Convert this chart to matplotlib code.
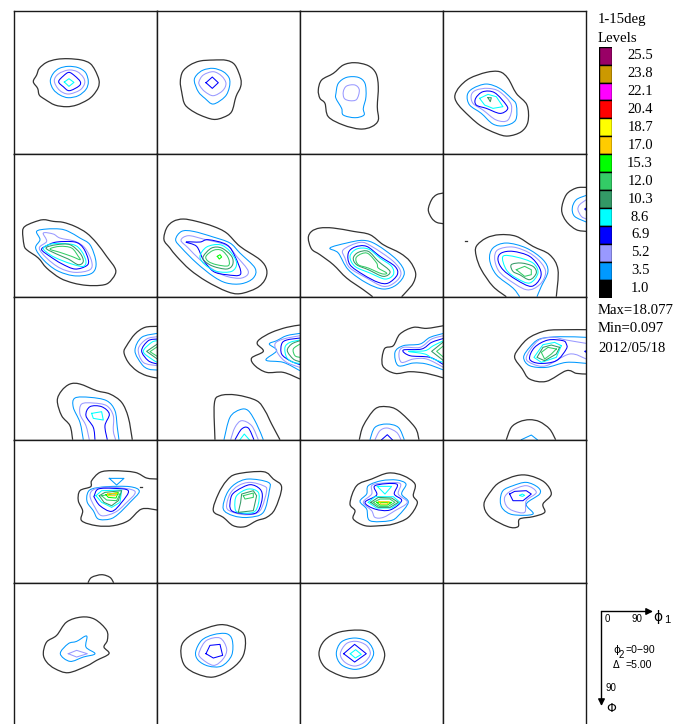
import numpy as np
import matplotlib
matplotlib.use("Agg")
import matplotlib.pyplot as plt
from matplotlib.path import Path
from matplotlib.patches import PathPatch

# Contour levels and their colours (top of legend first)
levels = [25.5, 23.8, 22.1, 20.4, 18.7, 17.0, 15.3, 12.0, 10.3, 8.6, 6.9, 5.2, 3.5, 1.0]
colors = ["#990066", "#CC9900", "#FF00FF", "#FF0000", "#FFFF00", "#FFCC00", "#00FF00",
          "#33CC66", "#339966", "#00FFFF", "#0000FF", "#9999FF", "#0099FF", "#000000"]
level_color = dict(zip(levels, colors))

stats = ["Max=18.077", "Min=0.097", "2012/05/18"]

# Contours, (level, points), one list per section.
# Points are in trace units: 429 units = 90 deg, see trace_x0 / trace_y0
r0c0 = [
    (1.0, [(100,245),(110,225),(118,205),(140,187),(170,178),(205,176),(245,180),(270,190),(285,210),(297,240),(295,262),(280,285),(262,300),(230,315),(200,320),(165,315),(135,298),(118,285),(113,265),(100,245)]),
    (3.5, [(151,243),(160,220),(178,205),(205,199),(235,203),(257,218),(265,245),(258,268),(235,287),(205,293),(180,285),(160,268),(151,243)]),
    (5.2, [(163,243),(175,222),(205,210),(232,215),(250,232),(254,250),(240,270),(205,282),(178,270),(163,243)]),
    (6.9, [(176,245),(190,228),(207,217),(225,228),(241,245),(237,258),(208,272),(190,260),(176,245)]),
    (8.6, [(193,246),(207,236),(222,247),(207,259),(193,246)]),
]
r0c1 = [
    (1.0, [(541,245),(548,215),(570,195),(600,183),(640,180),(680,181),(705,195),(722,235),(722,260),(708,290),(695,335),(670,352),(640,358),(600,345),(570,328),(553,310),(545,275),(541,245)]),
    (3.5, [(583,243),(590,225),(610,210),(640,205),(670,215),(688,235),(688,262),(675,290),(640,312),(615,295),(595,275),(583,243)]),
    (5.2, [(597,245),(610,225),(640,215),(665,228),(678,250),(668,272),(640,287),(615,275),(600,258),(597,245)]),
    (6.9, [(618,248),(637,231),(655,248),(637,265),(618,248)]),
]
r0c2 = [
    (1.0, [(55,270),(65,240),(100,220),(130,195),(165,188),(205,197),(228,220),(235,260),(232,320),(235,360),(215,380),(180,387),(130,375),(85,350),(75,310),(60,295),(55,270)]),
    (3.5, [(108,280),(115,250),(140,232),(175,232),(195,250),(198,290),(190,325),(192,345),(165,353),(130,345),(125,325),(108,295),(108,280)]),
    (5.2, [(130,275),(140,258),(165,255),(178,270),(170,298),(150,302),(133,295),(130,275)]),
]
r0c3 = [
    (1.0, [(466,285),(480,260),(510,235),(560,217),(600,215),(625,235),(650,280),(682,315),(685,365),(665,395),(625,408),(590,400),(540,375),(490,330),(470,305),(466,285)]),
    (3.5, [(503,285),(520,265),(560,252),(600,265),(635,295),(650,315),(648,360),(615,377),(580,372),(545,340),(510,315),(503,285)]),
    (5.2, [(515,285),(530,270),(565,265),(600,275),(635,315),(625,360),(590,360),(550,330),(520,310),(515,285)]),
    (6.9, [(528,295),(550,275),(585,278),(620,315),(622,330),(600,340),(560,325),(530,315),(528,295)]),
    (8.6, [(540,295),(565,283),(590,290),(610,320),(580,325),(555,315),(540,295)]),
    (10.3, [(565,293),(575,293),(572,305),(565,293)]),
]
r1c0 = [
    (1.0, [(68,695),(75,680),(100,668),(130,660),(160,665),(190,668),(225,680),(260,700),(290,730),(320,770),(345,805),(345,825),(325,850),(300,857),(260,857),(220,850),(180,835),(140,805),(115,775),(80,750),(72,735),(68,695)]),
    (3.5, [(110,695),(140,688),(180,688),(205,695),(240,715),(270,735),(287,780),(285,810),(265,825),(220,828),(170,812),(130,780),(107,745),(120,720),(110,695)]),
    (5.2, [(130,700),(160,703),(180,715),(225,725),(255,745),(275,785),(270,810),(225,818),(180,805),(140,775),(118,745),(140,725),(130,700)]),
    (6.9, [(140,738),(170,727),(225,727),(250,745),(265,780),(260,798),(225,808),(185,792),(150,770),(125,750),(140,738)]),
    (8.6, [(130,745),(160,732),(220,735),(245,755),(258,785),(250,800),(222,795),(180,780),(150,765),(130,745)]),
    (10.3, [(138,745),(170,735),(210,735),(240,760),(250,785),(235,795),(205,778),(170,763),(138,745)]),
    (12.0, [(150,748),(180,740),(215,745),(235,770),(240,780),(215,770),(180,758),(150,748)]),
]
r1c1 = [
    (1.0, [(492,720),(500,685),(520,665),(550,658),(590,665),(640,680),(680,700),(720,740),(780,780),(800,810),(795,840),(770,865),(720,882),(680,875),(620,845),(570,810),(530,770),(510,745),(492,720)]),
    (3.5, [(527,720),(545,695),(580,695),(640,712),(690,730),(720,760),(765,805),(760,835),(725,852),(680,850),(640,830),(590,790),(545,745),(527,720)]),
    (5.2, [(543,722),(565,708),(610,718),(680,737),(710,770),(745,815),(725,835),(680,830),(640,810),(600,780),(565,745),(543,722)]),
    (6.9, [(558,727),(600,727),(625,720),(680,735),(705,770),(722,823),(680,825),(640,815),(610,780),(590,740),(558,727)]),
    (8.6, [(600,770),(620,742),(660,735),(690,755),(710,790),(695,815),(650,815),(615,795),(600,770)]),
    (10.3, [(610,770),(635,745),(665,745),(695,770),(698,795),(680,808),(640,800),(615,785),(610,770)]),
    (12.0, [(618,770),(640,752),(665,752),(685,775),(685,798),(650,795),(625,785),(618,770)]),
    (15.3, [(652,770),(660,765),(665,772),(658,778),(652,770)]),
]
r1c2 = [
    (1.0, [(430,580),(410,585),(395,600),(385,630),(395,655),(410,668),(430,672)]),
    (1.0, [(218,891),(190,870),(140,835),(100,795),(60,765),(35,748),(25,715),(35,695),(60,685),(100,685),(160,695),(210,705),(250,735),(300,760),(330,785),(347,820),(340,850),(320,875),(305,891)]),
    (3.5, [(90,745),(140,730),(190,722),(230,735),(290,780),(313,820),(290,855),(250,868),(200,850),(145,810),(115,760),(90,745)]),
    (5.2, [(130,750),(180,728),(215,740),(280,785),(303,820),(285,848),(250,860),(200,835),(150,805),(135,775),(130,750)]),
    (6.9, [(145,760),(165,742),(200,740),(240,770),(285,800),(292,825),(265,850),(235,848),(190,825),(150,795),(145,760)]),
    (8.6, [(150,770),(170,748),(205,748),(240,775),(275,800),(280,825),(255,838),(210,820),(165,800),(150,770)]),
    (10.3, [(160,775),(175,758),(205,755),(235,785),(270,815),(250,830),(205,810),(170,795),(160,775)]),
    (12.0, [(168,775),(185,762),(205,762),(230,790),(235,805),(260,820),(245,822),(205,805),(175,795),(168,775)]),
]
r1c3 = [
    (1.0, [(860,563),(830,565),(800,585),(786,630),(800,665),(830,690),(860,695)]),
    (3.5, [(860,587),(830,600),(818,625),(825,650),(860,667)]),
    (5.2, [(860,600),(840,615),(835,630),(845,650),(860,658)]),
    (6.9, [(860,625),(855,628),(860,632)]),
    (1.0, [(620,891),(580,860),(545,810),(530,770),(530,740),(560,715),(600,705),(650,710),(700,740),(750,765),(775,810),(770,891)]),
    (1.0, [(497,723),(503,723)]),
    (3.5, [(660,891),(640,865),(590,825),(570,780),(580,745),(620,730),(680,745),(730,780),(745,815),(725,860),(712,891)]),
    (5.2, [(585,775),(595,750),(640,742),(690,760),(725,790),(738,820),(720,855),(680,870),(620,835),(595,810),(585,775)]),
    (6.9, [(595,780),(605,760),(640,755),(690,770),(720,805),(722,835),(695,860),(650,840),(610,810),(595,780)]),
    (8.6, [(610,770),(650,772),(700,790),(715,820),(690,850),(650,835),(620,810),(610,770)]),
    (10.3, [(635,795),(665,790),(700,800),(710,820),(690,840),(660,825),(640,815),(635,795)]),
    (12.0, [(650,810),(675,800),(695,810),(695,825),(675,830),(650,810)]),
]
r2c0 = [
    (1.0, [(472,97),(435,100),(405,120),(380,155),(372,175),(385,205),(410,230),(440,245),(472,252)]),
    (3.5, [(472,118),(425,130),(405,170),(425,210),(445,225),(472,228)]),
    (5.2, [(472,128),(440,135),(415,165),(430,205),(472,215)]),
    (6.9, [(472,135),(445,140),(425,170),(445,200),(472,210)]),
    (8.6, [(472,140),(455,145),(430,172),(455,195),(472,205)]),
    (10.3, [(472,150),(440,172),(472,195)]),
    (12.0, [(472,158),(450,173),(472,187)]),
    (1.0, [(218,437),(210,395),(185,365),(172,320),(185,290),(210,270),(240,270),(290,290),(330,300),(365,325),(385,370),(397,437)]),
    (3.5, [(250,437),(240,385),(220,340),(225,312),(270,310),(320,320),(345,350),(352,400),(357,437)]),
    (5.2, [(268,437),(258,395),(240,360),(245,330),(280,327),(320,335),(340,365),(340,410),(347,437)]),
    (6.9, [(285,437),(280,400),(258,365),(270,338),(305,338),(328,360),(315,395),(322,437)]),
    (8.6, [(275,358),(305,353),(310,378),(280,373),(275,358)]),
]
r2c1 = [
    (1.0, [(900,93),(860,100),(815,115),(780,135),(772,150),(790,172),(755,192),(765,215),(800,235),(850,235),(900,255)]),
    (3.5, [(900,118),(860,125),(830,140),(808,150),(830,170),(798,198),(850,205),(900,230)]),
    (5.2, [(900,125),(850,135),(825,150),(835,180),(860,205),(900,220)]),
    (6.9, [(900,132),(860,138),(845,150),(845,180),(870,200),(900,212)]),
    (8.6, [(900,138),(870,145),(855,160),(860,190),(880,205),(900,208)]),
    (10.3, [(900,140),(875,150),(862,170),(880,195),(900,203)]),
    (12.0, [(900,150),(880,165),(885,185),(900,190)]),
    (1.0, [(645,437),(643,330),(660,305),(710,303),(770,320),(795,350),(815,390),(840,437)]),
    (3.5, [(672,437),(690,370),(720,347),(745,350),(770,390),(790,437)]),
    (5.2, [(692,437),(705,400),(725,380),(755,395),(775,437)]),
    (6.9, [(705,437),(725,405),(745,402),(762,437)]),
    (8.6, [(720,437),(733,420),(748,437)]),
]
r2c2 = [
    (1.0, [(431,95),(380,103),(340,100),(300,120),(280,155),(253,165),(248,215),(285,238),(330,233),(380,238),(431,252)]),
    (3.5, [(431,118),(390,130),(360,150),(310,155),(285,175),(295,215),(340,207),(380,210),(431,228)]),
    (5.2, [(431,125),(395,135),(360,160),(310,160),(297,178),(305,205),(340,195),(380,195),(431,220)]),
    (6.9, [(431,133),(395,145),(365,165),(310,168),(330,185),(390,190),(431,212)]),
    (8.6, [(431,140),(400,155),(375,170),(325,172),(375,180),(400,195),(431,205)]),
    (10.3, [(431,143),(395,172),(431,200)]),
    (12.0, [(431,155),(410,172),(431,190)]),
    (1.0, [(178,437),(190,395),(225,345),(260,338),(295,350),(345,400),(357,437)]),
    (3.5, [(210,437),(225,400),(260,390),(295,400),(313,437)]),
    (5.2, [(225,437),(240,410),(262,402),(290,415),(303,437)]),
    (6.9, [(245,437),(262,422),(277,437)]),
]
r2c3 = [
    (1.0, [(860,107),(800,107),(740,110),(690,130),(660,160),(645,190),(668,225),(690,255),(740,262),(800,230),(830,238),(860,240)]),
    (3.5, [(860,130),(780,128),(720,135),(690,160),(672,190),(690,215),(740,220),(800,205),(860,208)]),
    (5.2, [(860,148),(800,138),(760,130),(715,140),(680,190),(700,210),(740,215),(810,180),(860,195)]),
    (6.9, [(800,150),(790,140),(745,138),(705,160),(690,195),(720,208),(770,200),(800,165),(800,150)]),
    (6.9, [(860,170),(855,172),(860,175)]),
    (8.6, [(785,155),(765,145),(730,152),(703,190),(725,205),(770,190),(785,155)]),
    (10.3, [(780,160),(755,153),(730,160),(712,190),(735,200),(770,180),(780,160)]),
    (12.0, [(770,165),(745,160),(725,175),(735,195),(755,180),(770,165)]),
    (1.0, [(620,437),(635,400),(660,383),(690,377),(720,383),(750,405),(768,437)]),
    (3.5, [(665,437),(695,423),(713,437)]),
]
r3c0 = [
    (1.0, [(472,555),(440,552),(405,535),(340,530),(300,535),(275,560),(272,578),(240,590),(235,620),(248,650),(245,680),(290,695),(340,695),(385,680),(425,645),(472,648)]),
    (1.0, [(420,578),(426,578)]),
    (1.0, [(264,866),(275,850),(305,842),(330,850),(341,866)]),
    (3.5, [(328,553),(372,553),(350,573),(328,553)]),
    (3.5, [(262,600),(275,585),(320,578),(390,578),(418,592),(390,625),(355,660),(330,675),(295,675),(280,650),(262,625),(262,600)]),
    (5.2, [(270,605),(285,585),(340,580),(405,592),(375,630),(345,655),(305,665),(285,640),(270,605)]),
    (6.9, [(283,605),(295,585),(340,583),(385,590),(365,625),(335,652),(300,635),(283,610),(283,605)]),
    (8.6, [(288,605),(305,590),(365,588),(360,625),(335,640),(305,625),(288,605)]),
    (10.3, [(298,605),(315,595),(365,590),(355,620),(335,635),(312,625),(298,605)]),
    (12.0, [(305,605),(335,600),(360,600),(350,620),(320,618),(305,605)]),
    (15.3, [(318,602),(355,595),(348,612),(325,610),(318,602)]),
    (17.0, [(323,600),(352,597),(345,605),(325,605),(323,600)]),
]
r3c1 = [
    (1.0, [(640,650),(655,600),(680,560),(710,540),(790,533),(820,555),(845,580),(825,645),(800,670),(770,680),(735,698),(700,695),(670,670),(640,650)]),
    (3.5, [(670,645),(680,600),(705,570),(745,555),(805,565),(808,590),(790,655),(745,670),(700,665),(670,645)]),
    (5.2, [(680,640),(690,600),(715,575),(750,565),(790,575),(800,590),(780,650),(740,662),(700,655),(680,640)]),
    (6.9, [(695,650),(693,610),(710,590),(750,572),(780,585),(787,610),(775,650),(750,660),(695,650)]),
    (8.6, [(705,640),(710,605),(745,585),(775,595),(775,630),(760,655),(715,655),(705,640)]),
    (10.3, [(715,655),(722,625),(725,600),(760,590),(770,605),(760,650),(715,655)]),
    (12.0, [(730,605),(760,597),(760,610),(735,615),(730,605)]),
]
r3c2 = [
    (1.0, [(150,628),(170,575),(215,555),(265,537),(310,545),(345,570),(340,605),(352,628),(325,670),(280,690),(240,695),(195,695),(160,675),(165,650),(150,628)]),
    (3.5, [(180,622),(200,600),(205,575),(245,560),(290,558),(318,570),(305,600),(325,625),(295,665),(270,680),(210,680),(200,645),(180,622)]),
    (5.2, [(190,625),(215,600),(215,575),(240,568),(300,568),(295,600),(322,625),(285,650),(250,670),(225,670),(215,650),(190,625)]),
    (6.9, [(195,625),(230,603),(225,575),(290,570),(283,600),(305,620),(270,648),(225,645),(195,625)]),
    (8.6, [(232,577),(275,577),(255,600),(232,577)]),
    (8.6, [(205,625),(225,608),(280,608),(300,625),(275,642),(230,642),(205,625)]),
    (10.3, [(212,625),(235,610),(275,612),(295,625),(270,640),(235,640),(212,625)]),
    (12.0, [(220,625),(240,615),(270,615),(285,625),(265,637),(238,637),(220,625)]),
    (15.3, [(230,625),(275,625),(262,633),(240,633),(230,625)]),
    (17.0, [(237,623),(268,623),(262,630),(243,630),(237,623)]),
]
r3c3 = [
    (1.0, [(553,630),(575,590),(600,565),(650,545),(690,545),(735,565),(755,600),(730,630),(735,655),(700,668),(660,675),(655,698),(625,698),(570,668),(553,630)]),
    (3.5, [(602,620),(610,590),(640,575),(680,565),(715,580),(720,600),(680,630),(700,660),(640,662),(610,645),(602,620)]),
    (5.2, [(615,610),(635,590),(680,575),(710,595),(680,620),(675,655),(640,650),(620,635),(615,610)]),
    (6.9, [(630,600),(645,592),(680,590),(695,600),(670,620),(640,620),(630,600)]),
    (8.6, [(660,604),(668,600),(675,604),(668,607),(660,604)]),
]
r4c0 = [
    (1.0, [(130,225),(140,190),(170,170),(200,130),(245,115),(285,122),(320,155),(322,185),(312,205),(327,225),(290,245),(260,262),(205,282),(165,270),(140,250),(130,225)]),
    (3.5, [(181,225),(205,195),(230,188),(260,172),(258,205),(285,225),(250,235),(210,248),(181,225)]),
    (5.2, [(205,225),(230,215),(262,225),(230,235),(205,225)]),
]
r4c1 = [
    (1.0, [(543,225),(550,190),(590,160),(660,138),(710,150),(735,175),(730,230),(695,270),(640,295),(590,285),(555,262),(543,225)]),
    (3.5, [(587,220),(605,185),(640,168),(680,165),(697,185),(695,230),(665,262),(625,262),(595,245),(587,220)]),
    (5.2, [(600,215),(620,185),(660,178),(680,210),(670,240),(640,260),(600,235),(600,215)]),
    (6.9, [(618,225),(630,200),(660,197),(668,230),(640,238),(618,225)]),
]
r4c2 = [
    (1.0, [(958,225),(975,185),(1020,160),(1090,155),(1130,175),(1155,225),(1140,270),(1110,290),(1060,298),(1020,290),(975,265),(958,225)]),
    (3.5, [(1010,225),(1025,190),(1065,178),(1105,190),(1122,225),(1100,260),(1065,272),(1025,258),(1010,225)]),
    (5.2, [(1022,225),(1040,195),(1070,188),(1100,200),(1112,225),(1095,250),(1065,262),(1035,250),(1022,225)]),
    (6.9, [(1032,225),(1065,197),(1100,225),(1065,250),(1032,225)]),
    (8.6, [(1052,225),(1068,213),(1085,227),(1067,238),(1052,225)]),
]
r4c3 = []

sections = [
    [r0c0, r0c1, r0c2, r0c3],
    [r1c0, r1c1, r1c2, r1c3],
    [r2c0, r2c1, r2c2, r2c3],
    [r3c0, r3c1, r3c2, r3c3],
    [r4c0, r4c1, r4c2, r4c3],
]

# Where phi1=0 / Phi=0 sits in the trace units of each section
trace_x0 = [
    [43, 472, 1, 431],
    [43, 472, 1, 431],
    [43, 472, 1, 431],
    [43, 472, 1, 431],
    [43, 472, 902, 1332],
]
trace_y0 = [32, 462, 8, 437, 12]
trace_span = 429

W, H = 677, 724
plt.rcParams["font.family"] = ["Liberation Serif", "DejaVu Serif"]

fig = plt.figure(figsize=(W / 100, H / 100), dpi=100)


def px_axes(left, top, width, height):
    return fig.add_axes([left / W, 1 - (top + height) / H, width / W, height / H])


def smooth_path(x, y):
    # Line through the traced points, drawn as a curve instead of straight pieces
    pts = np.column_stack([x, y])
    n = len(pts)
    closed = np.allclose(pts[0], pts[-1])
    verts = [pts[0]]
    for i in range(n - 1):
        if closed:
            before = pts[i - 1] if i > 0 else pts[n - 2]
            after = pts[i + 2] if i + 2 < n else pts[1]
        else:
            before = pts[max(i - 1, 0)]
            after = pts[min(i + 2, n - 1)]
        verts.append(pts[i] + (pts[i + 1] - before) / 6)
        verts.append(pts[i + 1] - (after - pts[i]) / 6)
        verts.append(pts[i + 1])
    codes = [Path.MOVETO] + [Path.CURVE4] * (3 * (n - 1))
    return Path(verts, codes)


# Section grid
for r, row in enumerate(sections):
    for c, contours in enumerate(row):
        ax = px_axes(14.3 + 143 * c, 10.7 + 143 * r, 143, 143)
        ax.set_xlim(0, 90)
        ax.set_ylim(90, 0)
        ax.set_xticks([])
        ax.set_yticks([])
        for spine in ax.spines.values():
            spine.set_linewidth(1.0)
            spine.set_color("#1a1a1a")
        for level, points in contours:
            pts = np.array(points, dtype=float)
            phi1 = (pts[:, 0] - trace_x0[r][c]) * 90 / trace_span
            phi = (pts[:, 1] - trace_y0[r]) * 90 / trace_span
            lw = 0.9 if level == 1.0 else 0.75
            col = "#333333" if level == 1.0 else level_color[level]
            is_open = not np.allclose(pts[0], pts[-1])
            if len(pts) >= 8 or (is_open and len(pts) >= 4):
                ax.add_patch(PathPatch(smooth_path(phi1, phi), fill=False, edgecolor=col, lw=lw))
            else:
                ax.plot(phi1, phi, color=col, lw=lw)

# Legend swatches
leg = px_axes(598.5, 46.7, 13, 251)
leg.set_xlim(0, 1)
leg.set_ylim(len(levels) - 0.5, -0.5)
leg.axis("off")
leg.barh(range(len(levels)), 1, height=1, color=colors, edgecolor="black", linewidth=1)
for i, level in enumerate(levels):
    leg.text(3.2, i, f"{level:.1f}", ha="center", va="center", fontsize=10.5, clip_on=False)

# Free text and the phi1 / Phi key, in figure pixels
key = fig.add_axes([0, 0, 1, 1])
key.set_xlim(0, W)
key.set_ylim(H, 0)
key.axis("off")
key.patch.set_alpha(0)

key.text(598, 20, "1-15deg", fontsize=10.6, va="center")
key.text(598, 38, "Levels", fontsize=10.6, va="center")
for y, s in zip([310, 329, 348], stats):
    key.text(598, y, s, fontsize=10.6, va="center")

arrow = dict(arrowstyle="-|>", color="black", lw=1.0, mutation_scale=10, shrinkA=0, shrinkB=0)
key.annotate("", xy=(653, 611.5), xytext=(601.5, 611.5), arrowprops=arrow)
key.annotate("", xy=(601.5, 706), xytext=(601.5, 611.5), arrowprops=arrow)

sans = ["Liberation Sans", "DejaVu Sans"]
small = dict(family=sans, fontsize=7, ha="center", va="center")
key.text(607, 619, "0", **small)
key.text(637, 619, "90", **small)
key.text(611, 688, "90", **small)
key.text(625, 650, "=0\u221290", family=sans, fontsize=7.6, va="center")
key.text(625, 665, "=5.00", family=sans, fontsize=7.6, va="center")
key.text(616.5, 650, "\u03d5", family=["DejaVu Sans"], fontsize=7.5, ha="center", va="center")
key.text(621.5, 655, "2", **small)
key.text(616.5, 665, "\u0394", family=["DejaVu Sans"], fontsize=7, ha="center", va="center")
key.text(658, 617, "\u03d5", family=["DejaVu Sans"], fontsize=10, ha="center", va="center")
key.text(667, 620, "1", family=sans, fontsize=8, ha="center", va="center")
key.text(611, 708, "\u03a6", family=["DejaVu Sans"], fontsize=9, ha="center", va="center")

fig.savefig("out.png", dpi=100)
